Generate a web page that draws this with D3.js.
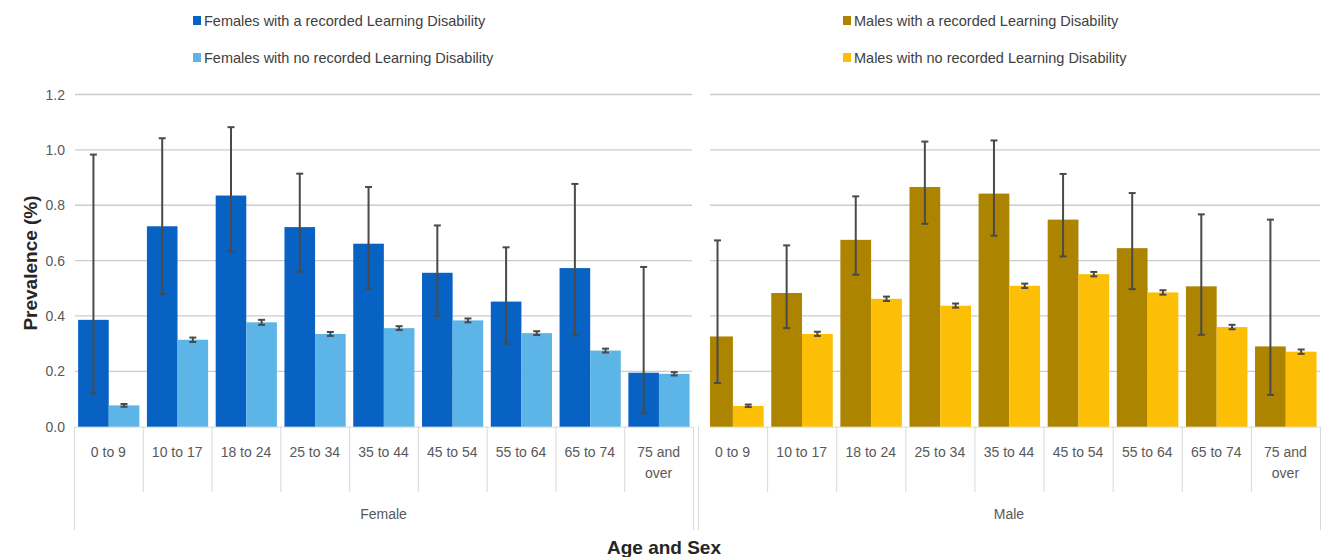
<!DOCTYPE html>
<html lang="en">
<head>
  <meta charset="UTF-8" />
  <title>Prevalence by age and sex</title>
  <script src="https://d3js.org/d3.v7.min.js"></script>
  <style>
  body { margin: 0; background: #fff; }
  svg { font-family: "Liberation Sans Narrow", "Liberation Sans", sans-serif; }
  .grid line { stroke: #cccccc; stroke-width: 1.3; }
  .sep { stroke: #d9d9d9; stroke-width: 1; }
  .tick-label { fill: #595959; font-size: 14px; }
  .legend text { fill: #404040; font-size: 14.5px; }
  .title { font-family: "Liberation Sans", Arial, sans-serif; font-weight: bold; font-size: 19px; fill: #262626; }
  </style>
</head>
<body>
<script>
// values
const ageGroups = ["0 to 9", "10 to 17", "18 to 24", "25 to 34", "35 to 44", "45 to 54", "55 to 64", "65 to 74", "75 and over"];
const yTicks = [0, 0.2, 0.4, 0.6, 0.8, 1.0, 1.2];

const femaleLD     = [0.386, 0.724, 0.835, 0.721, 0.661, 0.556, 0.452, 0.573, 0.195];
const femaleLDLow  = [0.120, 0.480, 0.633, 0.560, 0.500, 0.400, 0.300, 0.330, 0.050];
const femaleLDHigh = [0.983, 1.042, 1.082, 0.914, 0.866, 0.727, 0.648, 0.877, 0.577];
const femaleNo     = [0.077, 0.314, 0.377, 0.335, 0.356, 0.384, 0.338, 0.275, 0.191];
const femaleNoLow  = [0.072, 0.306, 0.368, 0.328, 0.349, 0.377, 0.331, 0.268, 0.185];
const femaleNoHigh = [0.082, 0.322, 0.386, 0.342, 0.363, 0.391, 0.345, 0.282, 0.197];

const maleLD     = [0.326, 0.483, 0.675, 0.866, 0.842, 0.748, 0.645, 0.507, 0.290];
const maleLDLow  = [0.158, 0.356, 0.549, 0.733, 0.690, 0.615, 0.497, 0.332, 0.115];
const maleLDHigh = [0.673, 0.655, 0.832, 1.030, 1.034, 0.913, 0.844, 0.767, 0.748];
const maleNo     = [0.075, 0.335, 0.462, 0.437, 0.509, 0.551, 0.485, 0.360, 0.271];
const maleNoLow  = [0.071, 0.328, 0.454, 0.430, 0.501, 0.543, 0.477, 0.352, 0.263];
const maleNoHigh = [0.080, 0.343, 0.470, 0.445, 0.517, 0.559, 0.493, 0.368, 0.279];

const seriesNames = ["Females with a recorded Learning Disability", "Females with no recorded Learning Disability",
                     "Males with a recorded Learning Disability", "Males with no recorded Learning Disability"];
const colors = ["#0862c3", "#5cb5e6", "#ad8400", "#fdbf05"];

const W = 1329, H = 557;
const svg = d3.select("body").append("svg").attr("width", W).attr("height", H);

const y = d3.scaleLinear().domain([0, 1.2]).range([426.7, 94.5]);

const panels = [
  { name: "Female", range: [74, 693], clipFrom: 74, gridFrom: 75, gridTo: 692,
    series: [
      { v: femaleLD, lo: femaleLDLow, hi: femaleLDHigh, color: colors[0] },
      { v: femaleNo, lo: femaleNoLow, hi: femaleNoHigh, color: colors[1] }] },
  { name: "Male", range: [698, 1320], clipFrom: 710, gridFrom: 710, gridTo: 1320,
    series: [
      { v: maleLD, lo: maleLDLow, hi: maleLDHigh, color: colors[2] },
      { v: maleNo, lo: maleNoLow, hi: maleNoHigh, color: colors[3] }] }
];

// y tick labels
svg.append("g").selectAll("text").data(yTicks).join("text")
  .attr("class", "tick-label")
  .attr("x", 65).attr("y", d => y(d) + 5)
  .attr("text-anchor", "end")
  .text(d => d.toFixed(1));

panels.forEach((p, pi) => {
  const x0 = d3.scaleBand().domain(ageGroups).range(p.range).padding(0);
  const bw = x0.bandwidth();
  const x1 = d3.scaleBand().domain([0, 1]).range([bw * 0.06, bw * 0.95]).padding(0);

  // gridlines
  svg.append("g").attr("class", "grid").selectAll("line").data(yTicks.slice(1)).join("line")
    .attr("x1", p.gridFrom).attr("x2", p.gridTo)
    .attr("y1", d => y(d)).attr("y2", d => y(d));

  // axis line
  svg.append("line").attr("class", "sep")
    .attr("x1", p.clipFrom).attr("x2", p.range[1])
    .attr("y1", y(0) + 0.5).attr("y2", y(0) + 0.5);

  const clipId = "clip" + pi;
  svg.append("clipPath").attr("id", clipId).append("rect")
    .attr("x", p.clipFrom).attr("y", 0).attr("width", p.range[1] - p.clipFrom).attr("height", H);

  const g = svg.append("g").attr("clip-path", `url(#${clipId})`);

  p.series.forEach((s, si) => {
    g.append("g").selectAll("rect").data(ageGroups).join("rect")
      .attr("x", d => x0(d) + x1(si))
      .attr("width", x1.bandwidth())
      .attr("y", (d, i) => y(s.v[i]))
      .attr("height", (d, i) => y(0) - y(s.v[i]))
      .attr("fill", s.color);
  });

  // error bars
  p.series.forEach((s, si) => {
    const eg = g.append("g").attr("stroke", "#4a4a4a").attr("stroke-width", 2).attr("fill", "none");
    const cx = d => x0(d) + x1(si) + x1.bandwidth() / 2;
    eg.selectAll("line.v").data(ageGroups).join("line").attr("class", "v")
      .attr("x1", cx).attr("x2", cx)
      .attr("y1", (d, i) => y(s.lo[i])).attr("y2", (d, i) => y(s.hi[i]));
    eg.selectAll("line.top").data(ageGroups).join("line").attr("class", "top")
      .attr("x1", d => cx(d) - 3.5).attr("x2", d => cx(d) + 3.5)
      .attr("y1", (d, i) => y(s.hi[i])).attr("y2", (d, i) => y(s.hi[i]));
    eg.selectAll("line.bot").data(ageGroups).join("line").attr("class", "bot")
      .attr("x1", d => cx(d) - 3.5).attr("x2", d => cx(d) + 3.5)
      .attr("y1", (d, i) => y(s.lo[i])).attr("y2", (d, i) => y(s.lo[i]));
  });

  // category separators
  const seps = ageGroups.slice(1).map(d => x0(d));
  svg.append("g").selectAll("line").data(seps).join("line").attr("class", "sep")
    .attr("x1", d => d + 0.5).attr("x2", d => d + 0.5).attr("y1", y(0)).attr("y2", 492);
  svg.append("g").selectAll("line").data(p.range).join("line").attr("class", "sep")
    .attr("x1", d => d + 0.5).attr("x2", d => d + 0.5).attr("y1", y(0)).attr("y2", 530);

  // category labels
  const lab = svg.append("g").selectAll("text").data(ageGroups).join("text")
    .attr("class", "tick-label")
    .attr("text-anchor", "middle")
    .attr("x", d => x0(d) + bw / 2)
    .attr("y", 457);
  lab.each(function(d) {
    const t = d3.select(this);
    const parts = d === "75 and over" ? ["75 and", "over"] : [d];
    parts.forEach((line, k) => t.append("tspan").attr("x", x0(d) + bw / 2).attr("dy", k ? 21 : 0).text(line));
  });

  svg.append("text").attr("class", "tick-label").attr("text-anchor", "middle")
    .attr("x", (p.range[0] + p.range[1]) / 2).attr("y", 519).text(p.name);
});

// legends
const legendPos = [[193, 21], [193, 58], [843, 21], [843, 58]];
const lg = svg.append("g").attr("class", "legend");
seriesNames.forEach((n, i) => {
  lg.append("rect").attr("x", legendPos[i][0]).attr("y", legendPos[i][1] - 5)
    .attr("width", 8).attr("height", 9).attr("fill", colors[i]);
  lg.append("text").attr("x", legendPos[i][0] + 11).attr("y", legendPos[i][1] + 5).text(n);
});

// axis titles
svg.append("text").attr("class", "title").attr("text-anchor", "middle")
  .attr("transform", "translate(37,263) rotate(-90)").text("Prevalence (%)");
svg.append("text").attr("class", "title").attr("text-anchor", "middle")
  .attr("x", 664).attr("y", 554).text("Age and Sex");
</script>
</body>
</html>
